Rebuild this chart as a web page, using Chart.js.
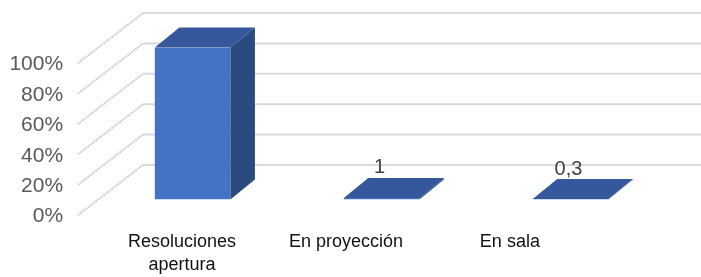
<!DOCTYPE html>
<html>
<head>
<meta charset="utf-8">
<script src="https://cdn.jsdelivr.net/npm/chart.js@4/dist/chart.umd.min.js"></script>
<style>
  html, body { margin: 0; padding: 0; background: #fff; }
</style>
</head>
<body>
<canvas id="chart" width="701" height="277"></canvas>
<script>
const categories = [["Resoluciones", "apertura"], "En proyección", "En sala"];
const values = [100, 1, 0.3];
const showValue = [false, true, true];
const yTicks = [0, 20, 40, 60, 80, 100];

const FRONT = "#4472C4", TOP = "#34589B", SIDE = "#2A4A80";
const DEPTH = { x: 24.5, y: -20 };    // bar depth
const WALL = { x: 44.85, y: -34.5 };  // bar plane -> back wall
const NEAR = { x: -20.15, y: 15.5 };  // bar plane -> front edge

function poly(ctx, pts, color) {
  ctx.beginPath();
  ctx.moveTo(pts[0][0], pts[0][1]);
  pts.slice(1).forEach(p => ctx.lineTo(p[0], p[1]));
  ctx.closePath();
  ctx.fillStyle = color;
  ctx.fill();
}

const threeD = {
  id: "threeD",
  beforeDatasetsDraw(chart) {
    const { ctx, chartArea, scales: { y } } = chart;
    ctx.save();
    y.ticks.forEach(t => {
      const py = y.getPixelForValue(t.value);
      // back wall gridline
      ctx.strokeStyle = "#dadada";
      ctx.lineWidth = 2;
      ctx.setLineDash([]);
      ctx.beginPath();
      ctx.moveTo(chartArea.left + WALL.x, py + WALL.y);
      ctx.lineTo(chart.width + 10, py + WALL.y);
      ctx.stroke();
      // side wall gridline
      ctx.strokeStyle = "#c8c8c8";
      ctx.lineWidth = 2;
      ctx.setLineDash([1.5, 1]);
      ctx.beginPath();
      ctx.moveTo(chartArea.left + NEAR.x, py + NEAR.y);
      ctx.lineTo(chartArea.left + WALL.x, py + WALL.y);
      ctx.stroke();
    });
    ctx.restore();
  },
  afterDatasetsDraw(chart) {
    const ctx = chart.ctx;
    const meta = chart.getDatasetMeta(0);
    ctx.save();
    meta.data.forEach((bar, i) => {
      const l = bar.x - bar.width / 2, r = bar.x + bar.width / 2;
      const t = bar.y, b = bar.base;
      poly(ctx, [[l, t], [r, t], [r + DEPTH.x, t + DEPTH.y], [l + DEPTH.x, t + DEPTH.y]], TOP);
      poly(ctx, [[r, t], [r + DEPTH.x, t + DEPTH.y], [r + DEPTH.x, b + DEPTH.y], [r, b]], SIDE);
      if (showValue[i]) {
        ctx.fillStyle = "#404040";
        ctx.font = "20px 'Liberation Sans', Arial, sans-serif";
        ctx.textAlign = "center";
        ctx.textBaseline = "middle";
        ctx.fillText(values[i].toLocaleString("es"), bar.x - 2, t + DEPTH.y - 10);
      }
    });
    ctx.restore();
  }
};

new Chart(document.getElementById("chart"), {
  type: "bar",
  data: {
    labels: categories,
    datasets: [{
      data: values,
      backgroundColor: FRONT,
      borderWidth: 0,
      barPercentage: 0.4,
      categoryPercentage: 1
    }]
  },
  options: {
    responsive: false,
    animation: false,
    devicePixelRatio: 1,
    layout: { padding: { top: 44.5, right: 36, left: 0, bottom: 0 } },
    plugins: { legend: { display: false }, tooltip: { enabled: false } },
    scales: {
      x: { display: false },
      xl: {
        type: "linear",
        position: "bottom",
        offset: false,
        min: -0.511,
        max: 2.946,
        afterBuildTicks: s => { s.ticks = categories.map((c, i) => ({ value: i })); },
        afterFit: s => { s.height = 77.5; },
        grid: { display: false, drawTicks: false },
        border: { display: false },
        ticks: {
          autoSkip: false,
          maxRotation: 0,
          padding: 30.8,
          color: "#111",
          font: { family: "'Liberation Sans', Arial, sans-serif", size: 18, lineHeight: 1.3 },
          callback: v => categories[v]
        }
      },
      y: {
        min: 0,
        max: 100,
        afterBuildTicks: s => { s.ticks = yTicks.map(v => ({ value: v })); },
        afterFit: s => { s.width = 98.15; },
        grid: { display: false, drawTicks: false },
        border: { display: false },
        ticks: {
          padding: 35,
          labelOffset: 17,
          color: "#595959",
          font: { family: "'Liberation Sans', Arial, sans-serif", size: 21 },
          callback: v => v + "%"
        }
      }
    }
  },
  plugins: [threeD]
});
</script>
</body>
</html>
